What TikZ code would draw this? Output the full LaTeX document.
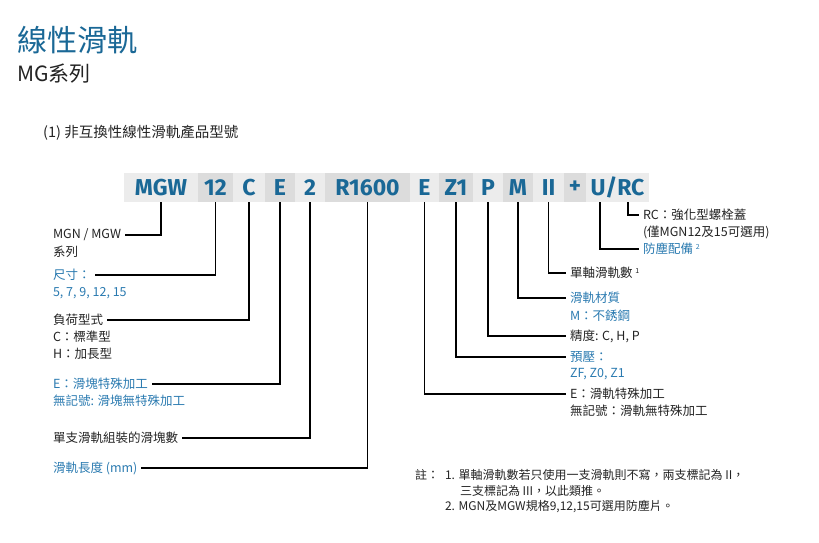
\documentclass[tikz,border=0pt]{standalone}
\usepackage{fontspec}
\setmainfont{Noto Sans CJK TC}
\newfontfamily\codefont{Fira Sans}
\usetikzlibrary{positioning}
\definecolor{codeblue}{RGB}{26,104,150}
\definecolor{labelblue}{RGB}{42,122,176}
\definecolor{textdark}{RGB}{35,35,35}
\definecolor{segA}{RGB}{236,236,236}
\definecolor{segB}{RGB}{220,220,220}
\newcommand{\supnum}[1]{\raisebox{4pt}{\fontsize{7}{7}\selectfont #1}}

\tikzset{
  seg/.style={minimum height=29pt, inner sep=0pt, font=\codefont\bfseries\fontsize{23}{23}\selectfont, text=codeblue},
  lite/.style={seg, fill=segA},
  dark/.style={seg, fill=segB},
  lbl/.style={anchor=west, inner sep=0pt, outer xsep=4pt, text=textdark, font=\fontsize{12.5}{14}\selectfont},
  bluelbl/.style={lbl, text=labelblue},
  notetext/.style={lbl, font=\fontsize{12}{13}\selectfont},
  link/.style={line width=1.2pt}
}

\begin{document}
\begin{tikzpicture}[x=1pt, y=-1pt]
  \useasboundingbox (0,0) rectangle (819,542);

  % headings
  \node[anchor=west, inner sep=0pt, text=codeblue, font=\fontsize{30}{30}\selectfont] (title) at (17,40) {線性滑軌};
  \node[anchor=west, inner sep=0pt, text=textdark, font=\fontsize{21}{21}\selectfont] (series) at (17,74) {MG系列};
  \node[anchor=west, inner sep=0pt, text=textdark, font=\fontsize{14.5}{15}\selectfont] (heading) at (43,133) {(1) 非互換性線性滑軌產品型號};

  % code bar
  \node[lite, minimum width=74pt] (mgw) at (161,187.5) {MGW};
  \node[dark, minimum width=35pt] (size) at (215.5,187.5) {12};
  \node[lite, minimum width=32pt] (load) at (249,187.5) {C};
  \node[dark, minimum width=30pt] (blockE) at (280,187.5) {E};
  \node[lite, minimum width=30pt] (count) at (310,187.5) {2};
  \node[dark, minimum width=85pt] (length) at (367.5,187.5) {R1600};
  \node[lite, minimum width=29pt] (railE) at (424.5,187.5) {E};
  \node[dark, minimum width=34pt] (preload) at (456,187.5) {Z1};
  \node[lite, minimum width=30pt] (accuracy) at (488,187.5) {P};
  \node[dark, minimum width=30pt] (material) at (518,187.5) {M};
  \node[lite, minimum width=31pt] (rails) at (548.5,187.5) {II};
  \node[dark, minimum width=22pt] (plus) at (575,187.5) {+};
  \node[lite, minimum width=63pt] (dust) at (617.5,187.5) {U/RC};
  \coordinate (dustU) at (600,202);
  \coordinate (dustRC) at (628,202);

  % left labels
  \node[lbl] (mgwL) at (49,235) {MGN / MGW};
  \node[lbl] at (49,252) {系列};
  \node[bluelbl] (sizeL) at (49,275) {尺寸：};
  \node[bluelbl] at (49,293) {5, 7, 9, 12, 15};
  \node[lbl] (loadL) at (49,320) {負荷型式};
  \node[lbl] at (49,337) {C：標準型};
  \node[lbl] at (49,354) {H：加長型};
  \node[bluelbl] (blockEL) at (49,384) {E：滑塊特殊加工};
  \node[bluelbl] at (49,401) {無記號: 滑塊無特殊加工};
  \node[lbl] (countL) at (49,438) {單支滑軌組裝的滑塊數};
  \node[bluelbl] (lengthL) at (49,468) {滑軌長度 (mm)};

  % right labels
  \node[lbl] (rcL) at (639,215) {RC：強化型螺栓蓋};
  \node[lbl] at (639,232) {(僅MGN12及15可選用)};
  \node[bluelbl] (dustL) at (639,249) {防塵配備 \supnum{2}};
  \node[lbl] (railsL) at (566,273) {單軸滑軌數 \supnum{1}};
  \node[bluelbl] (materialL) at (566,298) {滑軌材質};
  \node[bluelbl] at (566,316) {M：不銹鋼};
  \node[lbl] (accuracyL) at (566,336) {精度: C, H, P};
  \node[bluelbl] (preloadL) at (566,357) {預壓：};
  \node[bluelbl] at (566,374) {ZF, Z0, Z1};
  \node[lbl] (railEL) at (566,394) {E：滑軌特殊加工};
  \node[lbl] at (566,411) {無記號：滑軌無特殊加工};

  % notes
  \node[notetext] (noteHead) at (411,475) {註：};
  \node[notetext] (note1) at (441,475) {1. 單軸滑軌數若只使用一支滑軌則不寫，兩支標記為 II，};
  \node[notetext] at (456,491) {三支標記為 III，以此類推。};
  \node[notetext] at (441,507) {2. MGN及MGW規格9,12,15可選用防塵片。};

  % connectors
  \draw[link] (mgw.south) |- (mgwL.east);
  \draw[link] (size.south) |- (sizeL.east);
  \draw[link] (load.south) |- (loadL.east);
  \draw[link] (blockE.south) |- (blockEL.east);
  \draw[link] (count.south) |- (countL.east);
  \draw[link] (length.south) |- (lengthL.east);
  \draw[link] (railE.south) |- (railEL.west);
  \draw[link] (preload.south) |- (preloadL.west);
  \draw[link] (accuracy.south) |- (accuracyL.west);
  \draw[link] (material.south) |- (materialL.west);
  \draw[link] (rails.south) |- (railsL.west);
  \draw[link] (dustU) |- (dustL.west);
  \draw[link] (dustRC) |- (rcL.west);
\end{tikzpicture}
\end{document}
